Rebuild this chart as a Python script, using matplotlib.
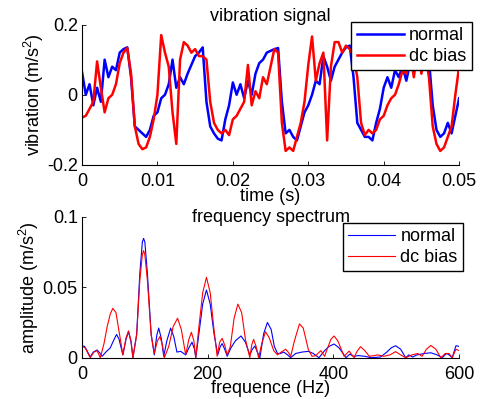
import matplotlib
matplotlib.use("Agg")
import matplotlib.pyplot as plt

plt.rcParams["font.family"] = ["Liberation Sans", "DejaVu Sans"]
plt.rcParams["mathtext.fontset"] = "custom"
plt.rcParams["mathtext.rm"] = "Liberation Sans"
plt.rcParams["mathtext.it"] = "Liberation Sans:italic"

# time signal, sampled every 0.5 ms over 0..0.05 s
time_s = [i * 0.0005 for i in range(101)]
normal_sig = [
    0.065, 0.00, 0.03, -0.03, 0.02, -0.02, 0.10, 0.05, 0.08, 0.07,
    0.12, 0.13, 0.135, 0.05, -0.09, -0.10, -0.11, -0.12, -0.10, -0.06,
    -0.05, -0.01, 0.00, 0.03, 0.10, 0.02, 0.05, 0.03, 0.06, 0.085,
    0.11, 0.12, 0.135, -0.02, -0.09, -0.11, -0.125, -0.13, -0.07, -0.03,
    0.035, 0.00, 0.03, -0.01, 0.04, 0.00, 0.06, 0.09, 0.10, 0.12,
    0.125, 0.13, 0.133, -0.02, -0.11, -0.10, -0.12, -0.13, -0.09, -0.05,
    -0.03, 0.00, 0.04, 0.03, 0.11, 0.08, 0.04, 0.08, 0.10, 0.12,
    0.135, 0.14, 0.05, -0.08, -0.10, -0.12, -0.12, -0.13, -0.08, -0.04,
    0.02, 0.05, 0.02, 0.07, 0.05, 0.08, 0.04, 0.09, 0.10, 0.11,
    0.12, 0.13, 0.10, -0.03, -0.10, -0.12, -0.11, -0.08, -0.11, -0.06,
    -0.01,
]
bias_sig = [
    -0.065, -0.06, -0.04, -0.02, 0.095, 0.02, -0.05, -0.01, 0.00, 0.03,
    0.09, 0.12, 0.133, 0.06, -0.09, -0.14, -0.155, -0.15, -0.12, -0.07,
    0.00, 0.17, 0.12, 0.08, -0.05, -0.14, 0.10, 0.15, 0.14, 0.12,
    0.13, 0.11, 0.11, 0.10, -0.02, -0.08, -0.10, -0.11, -0.10, -0.115,
    -0.07, -0.06, -0.04, -0.02, 0.085, -0.03, 0.01, -0.01, 0.05, 0.03,
    0.08, 0.13, 0.12, -0.08, -0.16, -0.15, -0.16, -0.12, -0.08, -0.02,
    0.085, 0.166, 0.04, 0.09, 0.12, -0.13, 0.08, 0.15, 0.15, 0.12,
    0.14, 0.13, 0.11, 0.05, -0.08, -0.115, -0.10, -0.11, -0.10, -0.07,
    -0.06, -0.03, -0.01, 0.00, 0.03, 0.07, 0.06, 0.12, 0.05, 0.13,
    0.06, 0.12, 0.05, -0.09, -0.14, -0.16, -0.15, -0.12, -0.09, 0.00,
    0.08,
]

# amplitude spectrum, read at lobe peaks / shoulders / nulls
normal_f = [0, 4, 8, 13, 18, 24, 29, 32, 38, 45, 50, 55, 59, 65, 70, 74, 78, 81,
            87, 92, 96, 98, 100, 104, 110, 115, 119, 122, 126, 130, 135, 141,
            146, 151, 157, 165, 170, 175, 179, 181, 186, 192, 198, 204, 210,
            216, 220, 223, 227, 231, 237, 244, 253, 260, 267, 271, 275, 279,
            283, 289, 295, 301, 306, 311, 316, 321, 327, 332, 340, 350, 360,
            368, 377, 386, 393, 401, 409, 420, 426, 432, 440, 450, 460, 475,
            485, 492, 499, 507, 515, 520, 526, 533, 545, 555, 565, 573, 580,
            584, 589, 595, 600]
normal_amp = [0.0085, 0.008, 0.005, 0.0005, 0.004, 0.0055, 0.003, 0.001, 0.004,
              0.007, 0.012, 0.0165, 0.013, 0.002, 0.013, 0.0185, 0.011, 0.0,
              0.017, 0.06, 0.082, 0.0846, 0.082, 0.06, 0.017, 0.002, 0.016,
              0.021, 0.014, 0.001, 0.012, 0.021, 0.015, 0.004, 0.0045, 0.002,
              0.007, 0.011, 0.006, 0.0, 0.017, 0.038, 0.048, 0.038, 0.017,
              0.002, 0.008, 0.010, 0.006, 0.001, 0.007, 0.012, 0.0154, 0.011,
              0.002, 0.006, 0.0083, 0.004, 0.0, 0.017, 0.025, 0.02, 0.008,
              0.003, 0.003, 0.004, 0.002, 0.0, 0.003, 0.004, 0.0045, 0.003,
              0.0, 0.005, 0.008, 0.0097, 0.007, 0.0, 0.0025, 0.001, 0.0015,
              0.001, 0.0, 0.0005, 0.004, 0.007, 0.0085, 0.006, 0.0, 0.002,
              0.0005, 0.002, 0.003, 0.0035, 0.002, 0.0, 0.003, 0.002, 0.0,
              0.0085, 0.008]
bias_f = [0, 5, 13, 19, 24, 29, 35, 40, 45, 49, 54, 61, 65, 70, 74, 78, 81, 87,
          92, 96, 98, 100, 104, 110, 115, 120, 124, 128, 131, 138, 145, 152,
          158, 165, 170, 174, 178, 181, 186, 192, 198, 204, 210, 215, 219, 223,
          227, 231, 236, 242, 248, 254, 260, 267, 270, 273, 277, 281, 286, 292,
          298, 305, 311, 317, 324, 328, 332, 338, 346, 352, 360, 366, 372, 380,
          386, 390, 396, 401, 407, 417, 425, 433, 437, 443, 450, 457, 465, 470,
          480, 490, 499, 507, 515, 525, 534, 541, 548, 555, 563, 571, 578, 584,
          589, 595, 600]
bias_amp = [0.008, 0.007, 0.0, 0.004, 0.005, 0.0, 0.01, 0.022, 0.031, 0.035,
            0.032, 0.013, 0.002, 0.014, 0.019, 0.012, 0.0, 0.016, 0.055, 0.073,
            0.076, 0.073, 0.055, 0.016, 0.003, 0.012, 0.015, 0.009, 0.0, 0.008,
            0.022, 0.028, 0.02, 0.002, 0.013, 0.018, 0.012, 0.0, 0.022, 0.046,
            0.057, 0.046, 0.02, 0.001, 0.011, 0.0137, 0.009, 0.002, 0.008,
            0.028, 0.038, 0.032, 0.013, 0.0, 0.009, 0.013, 0.008, 0.0, 0.01,
            0.0184, 0.014, 0.005, 0.002, 0.004, 0.006, 0.004, 0.001, 0.012,
            0.024, 0.021, 0.006, 0.001, 0.0015, 0.005, 0.001, 0.006, 0.013,
            0.0154, 0.012, 0.001, 0.0047, 0.0, 0.004, 0.0078, 0.005, 0.001,
            0.0015, 0.002, 0.001, 0.002, 0.0043, 0.002, 0.0, 0.002, 0.003,
            0.001, 0.006, 0.0087, 0.006, 0.0, 0.003, 0.003, 0.0, 0.006, 0.005]

labels = ["normal", "dc bias"]
FS = 13


def style(ax):
    for s in ("top", "right"):
        ax.spines[s].set_visible(False)
    for s in ("left", "bottom"):
        ax.spines[s].set_linewidth(0.8)
    ax.tick_params(direction="in", length=3, width=0.6, labelsize=FS)
    ax.tick_params(axis="x", pad=6)
    ax.tick_params(axis="y", pad=3)


fig = plt.figure(figsize=(4.81, 3.99), dpi=100)
ax1 = fig.add_axes([0.1705, 0.5865, 0.784, 0.352])
ax2 = fig.add_axes([0.1705, 0.1035, 0.784, 0.3534])

ax1.plot(time_s, normal_sig, color="#0000ff", lw=1.8, label=labels[0])
ax1.plot(time_s, bias_sig, color="#ff0000", lw=1.8, label=labels[1])
ax1.set_xlim(0, 0.05)
ax1.set_ylim(-0.2, 0.2)
ax1.set_xticks([0, 0.01, 0.02, 0.03, 0.04, 0.05])
ax1.set_xticklabels(["0", "0.01", "0.02", "0.03", "0.04", "0.05"])
ax1.set_yticks([-0.2, 0, 0.2])
ax1.set_yticklabels(["-0.2", "0", "0.2"])
ax1.set_xlabel("time (s)", fontsize=FS, labelpad=-2)
ax1.set_ylabel(r"vibration (m/s$^2$)", fontsize=FS, labelpad=1)
ax1.set_title("vibration signal", fontsize=FS, pad=1)
style(ax1)
leg1 = ax1.legend(loc="upper right", bbox_to_anchor=(0.981, 0.945),
                  bbox_transform=fig.transFigure, fontsize=FS, frameon=True,
                  fancybox=False, framealpha=1, edgecolor="black",
                  handlelength=2.6, handletextpad=0.3, labelspacing=0.2,
                  borderpad=0.3, borderaxespad=0)
leg1.get_frame().set_linewidth(1.0)

ax2.plot(normal_f, normal_amp, color="#0000ff", lw=0.8, label=labels[0])
ax2.plot(bias_f, bias_amp, color="#ff0000", lw=0.8, label=labels[1])
ax2.set_xlim(0, 600)
ax2.set_ylim(0, 0.1)
ax2.set_xticks([0, 200, 400, 600])
ax2.set_yticks([0, 0.05, 0.1])
ax2.set_yticklabels(["0", "0.05", "0.1"])
ax2.set_xlabel("frequence (Hz)", fontsize=FS, labelpad=-2)
ax2.set_ylabel(r"amplitude (m/s$^2$)", fontsize=FS, labelpad=1)
ax2.text(0.5, 0.965, "frequency spectrum", transform=ax2.transAxes,
         ha="center", va="baseline", fontsize=FS)
style(ax2)
leg2 = ax2.legend(loc="upper right", bbox_to_anchor=(0.9626, 0.441),
                  bbox_transform=fig.transFigure, fontsize=FS, frameon=True,
                  fancybox=False, framealpha=1, edgecolor="black",
                  handlelength=2.6, handletextpad=0.3, labelspacing=0.2,
                  borderpad=0.3, borderaxespad=0)
leg2.get_frame().set_linewidth(1.0)

fig.savefig("out.png", dpi=100)
